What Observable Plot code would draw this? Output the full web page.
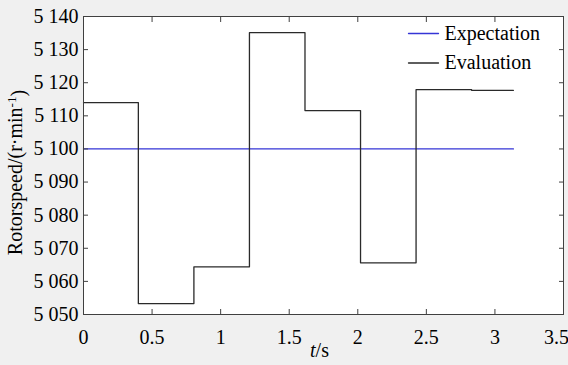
<!DOCTYPE html>
<html><head><meta charset="utf-8">
<script src="https://cdn.jsdelivr.net/npm/d3@7"></script>
<script src="https://cdn.jsdelivr.net/npm/@observablehq/plot@0.6"></script>
<style>
html,body{margin:0;padding:0;background:#f0f0f0;}
#chart{width:568px;height:365px;overflow:hidden;}
</style></head><body><div id="chart"></div>
<script>
// Step change times (s) and evaluated rotor speed held after each time (r/min)
const stepTimes = [0, 0.4, 0.805, 1.21, 1.615, 2.02, 2.425, 2.83, 3.135];
const evaluation = [5114, 5053.3, 5064.4, 5135.1, 5111.6, 5065.6, 5117.9, 5117.7];
const expectation = 5100;
const seriesNames = ["Expectation", "Evaluation"];
const seriesColors = ["#3535d6", "#2a2a2a"];
const xTicks = [0, 0.5, 1, 1.5, 2, 2.5, 3, 3.5];
const yTicks = [5050, 5060, 5070, 5080, 5090, 5100, 5110, 5120, 5130, 5140];
const xLabel = "t/s";
const yLabel = "Rotorspeed/(r·min-1)";

const serif = "Liberation Serif";
const evalData = stepTimes.map((t, i) => ({t, v: evaluation[Math.min(i, evaluation.length - 1)]}));
const expData = [stepTimes[0], stepTimes[stepTimes.length - 1]].map(t => ({t, v: expectation}));
const fmtY = d => d3.format(",")(d).replace(",", " ");
const fmtX = d => String(d);
const lineShape = {draw(ctx, l) { ctx.moveTo(0, 0); ctx.lineTo(0, -l); }};
const axisColor = "#404040";

const chart = Plot.plot({
  width: 568, height: 365,
  marginLeft: 83, marginRight: 5, marginTop: 16, marginBottom: 51,
  style: {background: "transparent", fontSize: "20px", color: "#000", fontFamily: serif},
  x: {domain: [0, 3.5]},
  y: {domain: [5050, 5140]},
  marks: [
    Plot.frame({fill: "white"}),
    Plot.line(expData, {x: "t", y: "v", stroke: seriesColors[0], strokeWidth: 1.3}),
    Plot.line(evalData, {x: "t", y: "v", curve: "step-after", stroke: seriesColors[1], strokeWidth: 1.3}),
    Plot.frame({stroke: axisColor, strokeWidth: 1}),
    Plot.axisX(xTicks.slice(0, -1), {anchor: "bottom", tickSize: 0, tickPadding: 15, label: null, tickFormat: fmtX, fill: "#000", fontSize: 20, fontFamily: serif, fontVariant: "normal"}),
    Plot.axisX(xTicks.slice(-1), {anchor: "bottom", tickSize: 0, tickPadding: 15, dx: -7, label: null, tickFormat: fmtX, fill: "#000", fontSize: 20, fontFamily: serif, fontVariant: "normal"}),
    Plot.axisX(xTicks, {anchor: "bottom", tickSize: -5, fill: "none", label: null, stroke: axisColor}),
    Plot.axisX(xTicks, {anchor: "top", tickSize: -5, fill: "none", label: null, stroke: axisColor}),
    Plot.axisY(yTicks, {anchor: "left", tickSize: 0, tickPadding: 5, label: null, tickFormat: fmtY, fill: "#000", fontSize: 20, fontFamily: serif, fontVariant: "normal"}),
    Plot.axisY(yTicks, {anchor: "left", tickSize: -5, fill: "none", label: null, stroke: axisColor}),
    Plot.axisY(yTicks, {anchor: "right", tickSize: -5, fill: "none", label: null, stroke: axisColor}),
    Plot.text([xLabel], {frameAnchor: "bottom", dy: 36, dx: -4, lineAnchor: "middle", fontSize: 20, fontFamily: serif, fill: "#000", className: "xlab"}),
    Plot.text([yLabel], {frameAnchor: "left", dx: -68, dy: 7, rotate: -90, textAnchor: "middle", lineAnchor: "middle", fontSize: 20, fontFamily: serif, fill: "#000", className: "ylab"}),
    // legend
    Plot.vector([seriesNames[0]], {frameAnchor: "top-right", dx: -155, dy: 17, length: 30, rotate: 90, anchor: "start", shape: lineShape, stroke: seriesColors[0], strokeWidth: 1.3}),
    Plot.vector([seriesNames[1]], {frameAnchor: "top-right", dx: -155, dy: 46.5, length: 30, rotate: 90, anchor: "start", shape: lineShape, stroke: seriesColors[1], strokeWidth: 1.3}),
    Plot.text([seriesNames[0]], {frameAnchor: "top-right", dx: -119, dy: 17, textAnchor: "start", lineAnchor: "middle", fontSize: 20, fontFamily: serif, fill: "#000"}),
    Plot.text([seriesNames[1]], {frameAnchor: "top-right", dx: -119, dy: 46.5, textAnchor: "start", lineAnchor: "middle", fontSize: 20, fontFamily: serif, fill: "#000"})
  ]
});
document.getElementById("chart").appendChild(chart);

const ns = "http://www.w3.org/2000/svg";
// wrap plain text content of every text element in a tspan carrying the serif font
chart.querySelectorAll("text").forEach(t => {
  if (t.querySelector("tspan")) return;
  const s = t.textContent; t.textContent = "";
  const sp = document.createElementNS(ns, "tspan"); sp.textContent = s; t.appendChild(sp);
});
// italic t in the x label, superscript in the y label
const xl = chart.querySelector(".xlab text");
if (xl) { xl.textContent = "";
  const a = document.createElementNS(ns, "tspan"); a.setAttribute("font-style", "italic"); a.textContent = "t"; xl.appendChild(a);
  const b = document.createElementNS(ns, "tspan"); b.textContent = "/s"; xl.appendChild(b); }
const yl = chart.querySelector(".ylab text");
if (yl) { yl.textContent = "";
  const a = document.createElementNS(ns, "tspan"); a.textContent = "Rotorspeed/(r·min"; yl.appendChild(a);
  const b = document.createElementNS(ns, "tspan"); b.setAttribute("dy", "-0.45em"); b.setAttribute("font-size", "13px"); b.textContent = "-1"; yl.appendChild(b);
  const c = document.createElementNS(ns, "tspan"); c.setAttribute("dy", "0.45em"); c.textContent = ")"; yl.appendChild(c); }
chart.querySelectorAll("text, tspan").forEach(t => { t.setAttribute("font-family", serif); t.style.fontFamily = serif; t.removeAttribute("font-variant"); });
chart.querySelectorAll("g").forEach(g => { if (g.getAttribute("font-variant")) g.removeAttribute("font-variant"); });
</script></body></html>
